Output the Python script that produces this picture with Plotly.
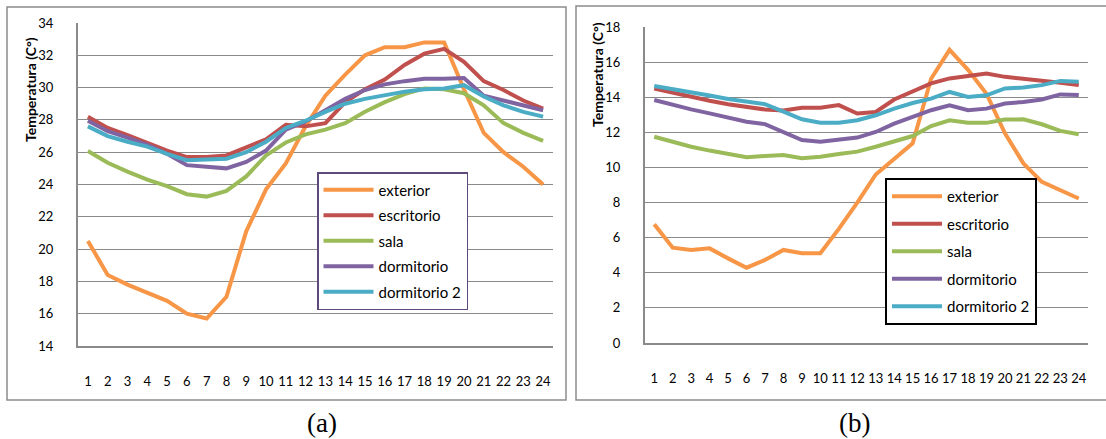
import plotly.graph_objects as go

hours = list(range(1, 25))
series_names = ["exterior", "escritorio", "sala", "dormitorio", "dormitorio 2"]
colors = ["#F79646", "#C0504D", "#9BBB59", "#8064A2", "#4BACC6"]

# Chart (a)
a_exterior = [20.5, 18.4, 17.8, 17.3, 16.8, 16.0, 15.7, 17.05, 21.1, 23.7, 25.3, 27.6,
              29.5, 30.8, 32.0, 32.5, 32.5, 32.8, 32.8, 29.9, 27.2, 26.0, 25.1, 24.0]
a_escritorio = [28.2, 27.5, 27.05, 26.55, 26.1, 25.7, 25.7, 25.8, 26.3, 26.8, 27.7, 27.6,
                27.8, 29.1, 29.9, 30.5, 31.4, 32.1, 32.4, 31.6, 30.4, 29.85, 29.2, 28.7]
a_sala = [26.07, 25.35, 24.8, 24.3, 23.9, 23.4, 23.25, 23.6, 24.5, 25.8, 26.6, 27.1,
          27.4, 27.8, 28.5, 29.1, 29.6, 29.95, 29.9, 29.65, 28.9, 27.8, 27.2, 26.7]
a_dormitorio = [27.95, 27.3, 26.9, 26.45, 25.9, 25.2, 25.1, 25.0, 25.4, 26.1, 27.4, 27.9,
                28.6, 29.3, 29.85, 30.2, 30.4, 30.55, 30.55, 30.6, 29.5, 29.2, 28.9, 28.6]
a_dormitorio2 = [27.6, 27.0, 26.65, 26.35, 25.9, 25.5, 25.55, 25.6, 26.0, 26.65, 27.5, 27.95,
                 28.5, 29.0, 29.3, 29.55, 29.75, 29.9, 29.95, 30.15, 29.45, 28.9, 28.5, 28.2]

# Chart (b)
b_exterior = [6.77, 5.43, 5.3, 5.39, 4.82, 4.29, 4.73, 5.3, 5.11, 5.11, 6.5, 8.0,
              9.6, 10.5, 11.37, 15.05, 16.7, 15.56, 14.2, 11.94, 10.23, 9.18, 8.7, 8.23]
b_escritorio = [14.5, 14.25, 14.0, 13.8, 13.6, 13.43, 13.3, 13.25, 13.4, 13.4, 13.55, 13.07,
                13.16, 13.87, 14.3, 14.79, 15.07, 15.2, 15.35, 15.16, 15.07, 14.94, 14.83, 14.7]
b_sala = [11.75, 11.47, 11.18, 10.96, 10.77, 10.58, 10.65, 10.71, 10.52, 10.61, 10.77, 10.9,
          11.18, 11.47, 11.79, 12.36, 12.69, 12.54, 12.54, 12.73, 12.74, 12.46, 12.08, 11.89]
b_dormitorio = [13.84, 13.56, 13.31, 13.08, 12.86, 12.6, 12.47, 12.03, 11.56, 11.47, 11.56, 11.7,
                12.02, 12.5, 12.88, 13.26, 13.54, 13.26, 13.35, 13.64, 13.73, 13.87, 14.16, 14.12]
b_dormitorio2 = [14.64, 14.47, 14.3, 14.1, 13.9, 13.74, 13.6, 13.18, 12.74, 12.55, 12.55, 12.69,
                 12.97, 13.35, 13.67, 13.92, 14.3, 14.02, 14.11, 14.5, 14.55, 14.69, 14.93, 14.88]

a_ticks = list(range(14, 35, 2))
b_ticks = list(range(0, 19, 2))

W, H = 1106, 439
FONT = "Lato, 'Open Sans', sans-serif"
GRID = "#8a8a8a"

fig = go.Figure()

a_data = [a_exterior, a_escritorio, a_sala, a_dormitorio, a_dormitorio2]
b_data = [b_exterior, b_escritorio, b_sala, b_dormitorio, b_dormitorio2]

for i, (name, ys, c) in enumerate(zip(series_names, a_data, colors)):
    fig.add_trace(go.Scatter(x=hours, y=ys, name=name, mode="lines",
                             line=dict(color=c, width=4), xaxis="x", yaxis="y",
                             legend="legend", legendgroup=f"a{i}"))
for i, (name, ys, c) in enumerate(zip(series_names, b_data, colors)):
    fig.add_trace(go.Scatter(x=hours, y=ys, name=name, mode="lines",
                             line=dict(color=c, width=4), xaxis="x2", yaxis="y2",
                             legend="legend2", legendgroup=f"b{i}"))

def px_x(p):
    return p / W

def px_y(p):
    return 1 - p / H

axis_common = dict(showline=True, linecolor=GRID, linewidth=2, ticks="", zeroline=False,
                   automargin=False, tickfont=dict(family=FONT, size=13, color="#000"))

fig.update_layout(
    width=W, height=H,
    margin=dict(l=0, r=0, t=0, b=0, pad=0, autoexpand=False),
    paper_bgcolor="white", plot_bgcolor="white",
    font=dict(family=FONT, color="#000"),
    xaxis=dict(domain=[px_x(78), px_x(553)], range=[0.5, 24.5], tickmode="array",
               tickvals=hours, ticktext=[str(h) for h in hours], showgrid=False,
               anchor="y", ticklabelstandoff=22, **axis_common),
    yaxis=dict(domain=[px_y(346), px_y(23)], range=[14, 34], tickmode="array",
               tickvals=a_ticks, showgrid=True, gridcolor=GRID, gridwidth=1.2,
               anchor="x", ticklabelstandoff=20, **axis_common),
    xaxis2=dict(domain=[px_x(645), px_x(1088)], range=[0.5, 24.5], tickmode="array",
                tickvals=hours, ticktext=[str(h) for h in hours], showgrid=False,
                anchor="y2", ticklabelstandoff=22, **axis_common),
    yaxis2=dict(domain=[px_y(343), px_y(27)], range=[0, 18], tickmode="array",
                tickvals=b_ticks, showgrid=True, gridcolor=GRID, gridwidth=1.2,
                anchor="x2", ticklabelstandoff=20, **axis_common),
    legend=dict(x=px_x(317), y=px_y(172), xanchor="left", yanchor="top",
                bgcolor="white", bordercolor="#5f497a", borderwidth=1.5,
                font=dict(family=FONT, size=15, color="#000"), itemwidth=50,
                tracegroupgap=3),
    legend2=dict(x=px_x(885), y=px_y(178), xanchor="left", yanchor="top",
                 bgcolor="white", bordercolor="#000000", borderwidth=2,
                 font=dict(family=FONT, size=15, color="#000"), itemwidth=50,
                 tracegroupgap=5),
    showlegend=True,
)

# Outer frames of the two panels
fig.add_shape(type="rect", xref="paper", yref="paper",
              x0=px_x(7), x1=px_x(566), y0=px_y(400), y1=px_y(7),
              line=dict(color="#8c8c8c", width=1.5), fillcolor="rgba(0,0,0,0)", layer="below")
fig.add_shape(type="rect", xref="paper", yref="paper",
              x0=px_x(576), x1=px_x(1110), y0=px_y(400), y1=px_y(6),
              line=dict(color="#8c8c8c", width=1.5), fillcolor="rgba(0,0,0,0)", layer="below")

# Axis titles
fig.add_annotation(x=px_x(30), y=px_y(90), xref="paper", yref="paper", text="<b>Temperatura (C°)</b>",
                   textangle=-90, showarrow=False, xanchor="center", yanchor="middle",
                   font=dict(family=FONT, size=14, color="#000"))
fig.add_annotation(x=px_x(598), y=px_y(75), xref="paper", yref="paper", text="<b>Temperatura (C°)</b>",
                   textangle=-90, showarrow=False, xanchor="center", yanchor="middle",
                   font=dict(family=FONT, size=14, color="#000"))

# Panel labels
fig.add_annotation(x=px_x(322), y=px_y(423), xref="paper", yref="paper", text="(a)",
                   showarrow=False, xanchor="center", yanchor="middle",
                   font=dict(family="Liberation Serif, serif", size=27, color="#000"))
fig.add_annotation(x=px_x(854), y=px_y(423), xref="paper", yref="paper", text="(b)",
                   showarrow=False, xanchor="center", yanchor="middle",
                   font=dict(family="Liberation Serif, serif", size=27, color="#000"))

fig.write_html("out.html")
